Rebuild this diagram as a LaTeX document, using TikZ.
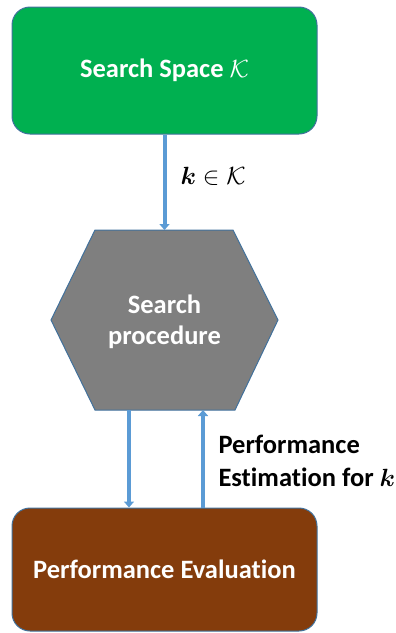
\documentclass[tikz,border=0pt]{standalone}
\usepackage{fontspec}
\usepackage{bm}
\setmainfont{Carlito}[Ligatures=NoCommon]
\usetikzlibrary{arrows.meta}
\definecolor{boxgreen}{HTML}{00B050}
\definecolor{hexgray}{HTML}{7F7F7F}
\definecolor{boxbrown}{HTML}{843C0C}
\definecolor{edgeblue}{HTML}{41719C}
\definecolor{arrowblue}{HTML}{5B9BD5}
\tikzset{
  bigbox/.style={draw=edgeblue, line width=1pt, rounded corners=18pt,
    minimum width=305pt, text=white, font=\bfseries\fontsize{26.5}{31}\selectfont},
  hexshape/.style={draw=edgeblue, line width=1pt, fill=hexgray},
  hextext/.style={text=white, align=center, font=\bfseries\fontsize{26.5}{31}\selectfont},
  lbl/.style={text=black, align=left, font=\bfseries\fontsize{26.5}{33}\selectfont},
  arr/.style={draw=arrowblue, line width=4pt, -{Triangle[width=10pt,length=6pt]}},
}
\begin{document}
\begin{tikzpicture}[x=1pt,y=-1pt]
\useasboundingbox (0,0) rectangle (396,633);
% boxes
\node[bigbox, fill=boxgreen, minimum height=127pt] (space) at (164.5,70.5) {Search Space $\mathcal{K}$};
\node[bigbox, fill=boxbrown, minimum height=123pt] (eval) at (164.5,569.5) {Performance Evaluation};
% hexagon
\draw[hexshape] (95,230) -- (233,230) -- (278,320) -- (235,410) -- (95,410) -- (51,320) -- cycle;
\node[hextext] (hex) at (164.5,322) {Search\\procedure};
\coordinate (hextop) at (164.5,230);
\coordinate (hexdl) at (129,410);
\coordinate (hexur) at (203,410);
% connectors
\draw[arr] (space.south) -- (hextop);
\draw[arr] (hexdl) -- (hexdl |- eval.north);
\draw[arr] (hexur |- eval.north) -- (hexur);
% labels
\node[lbl, anchor=west, font=\fontsize{28}{33}\selectfont] (klbl) at (177,176) {$\bm{k}\in\mathcal{K}$};
\node[lbl, anchor=west] (plbl) at (215,461) {Performance\\Estimation for $\bm{k}$};
\end{tikzpicture}
\end{document}
